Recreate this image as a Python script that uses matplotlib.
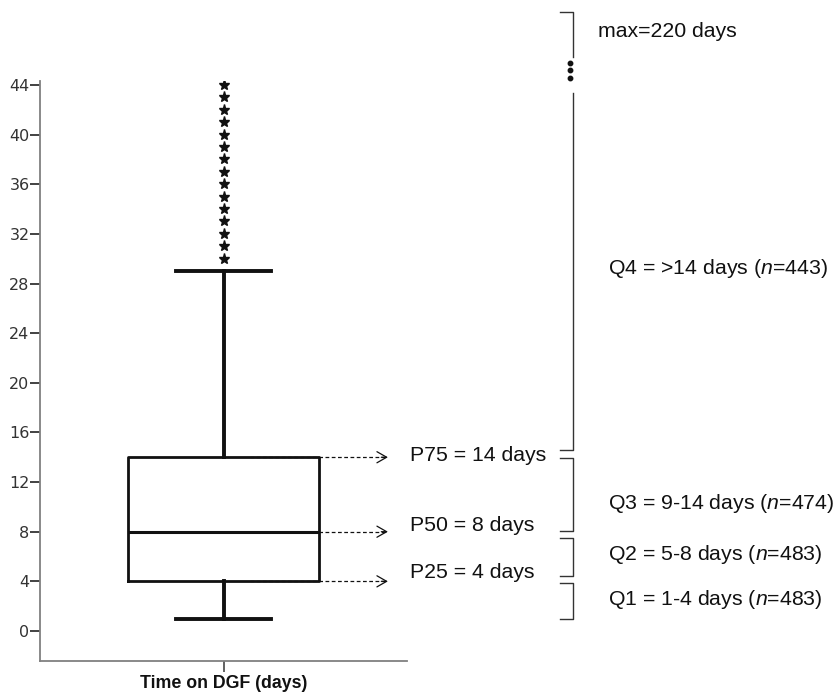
import matplotlib
matplotlib.use("Agg")
import matplotlib.pyplot as plt
import matplotlib.transforms as mtransforms

plt.rcParams["mathtext.fontset"] = "custom"
plt.rcParams["mathtext.rm"] = "Liberation Sans"
plt.rcParams["mathtext.it"] = "Liberation Sans:italic"

# ── Data ─────────────────────────────────────────────────────────────────────
CATEGORY = "Time on DGF (days)"
Q1_VAL, MEDIAN, Q3_VAL = 4, 8, 14
WHISK_LO, WHISK_HI = 1, 29
OUTLIERS = [30, 31, 32, 33, 34, 35, 36, 37, 38, 39, 40, 41, 42, 43, 44]
Y_TICKS = [0, 4, 8, 12, 16, 20, 24, 28, 32, 36, 40, 44]

PCT_LABELS = ["P75 = 14 days", "P50 = 8 days", "P25 = 4 days"]
PCT_VALUES = [14, 8, 4]
PCT_TEXT_Y = [14.18, 8.46, 4.75]

QUART_LABELS = [r"Q4 = >14 days ($\mathit{n}$=443)",
                r"Q3 = 9-14 days ($\mathit{n}$=474)",
                r"Q2 = 5-8 days ($\mathit{n}$=483)",
                r"Q1 = 1-4 days ($\mathit{n}$=483)"]
QUART_TEXT_Y = [29.2, 10.3, 6.2, 2.5]
# bracket spans (bottom, top) in days
QUART_SPANS = [(14.58, 43.35), (8.06, 13.94), (4.43, 7.49), (0.97, 3.87)]
MAX_LABEL = "max=220 days"
MAX_SPAN = (46.25, 49.9)
MAX_TEXT_Y = 48.3
DOTS_Y = [45.77, 45.2, 44.56]

C_LINE = "#111111"
C_AXIS = "#808080"

# ── Figure ───────────────────────────────────────────────────────────────────
fig = plt.figure(figsize=(8.35, 6.92), dpi=100)
ax = fig.add_axes([40 / 835, 31 / 692, 367 / 835, 580 / 692])

stats = [dict(med=MEDIAN, q1=Q1_VAL, q3=Q3_VAL, whislo=WHISK_LO,
              whishi=WHISK_HI, fliers=OUTLIERS, label=CATEGORY)]
ax.bxp(stats, positions=[1], widths=0.52, showfliers=True,
       boxprops=dict(color=C_LINE, lw=2.0),
       medianprops=dict(color=C_LINE, lw=2.2),
       whiskerprops=dict(color=C_LINE, lw=2.8),
       capprops=dict(color=C_LINE, lw=2.8),
       capwidths=0.26,
       flierprops=dict(marker="*", markersize=8, markerfacecolor=C_LINE,
                       markeredgecolor=C_LINE, linestyle="none"))

ax.set_xlim(0.5, 1.5)
ax.set_ylim(-2.42, 44.32)
ax.set_yticks(Y_TICKS)
ax.set_yticklabels([str(t) for t in Y_TICKS], fontsize=11.5,
                   family="DejaVu Sans", color="#333333")
ax.set_xticks([1])
ax.set_xticklabels([CATEGORY], fontsize=12.8, family="Liberation Sans",
                   fontweight="bold", color="#111111")
ax.tick_params(axis="y", direction="out", length=7, width=1.3,
               color="#333333", pad=0.5)
ax.tick_params(axis="x", direction="out", length=8, width=1.3,
               color="#555555", pad=2)
for side in ["top", "right"]:
    ax.spines[side].set_visible(False)
for side in ["left", "bottom"]:
    ax.spines[side].set_color(C_AXIS)
    ax.spines[side].set_linewidth(1.3)

# x in figure fraction, y in days
trans = mtransforms.blended_transform_factory(fig.transFigure, ax.transData)

# dashed arrows from box to percentile labels
for val, txt, ty in zip(PCT_VALUES, PCT_LABELS, PCT_TEXT_Y):
    ax.plot([1.072, 1.44], [val, val], ls=(0, (3, 2)), lw=0.9,
            color=C_LINE, clip_on=False)
    ax.annotate("", xy=(1.448, val), xytext=(1.43, val),
                arrowprops=dict(arrowstyle="->,head_length=0.7,head_width=0.4",
                                lw=0.9, color=C_LINE, shrinkA=0, shrinkB=0),
                annotation_clip=False)
    ax.text(410 / 835, ty, txt, fontsize=15.3, family="Liberation Sans",
            ha="left", va="center", color=C_LINE, transform=trans)

# quartile brackets on the right
xv, xh = 573 / 835, 560 / 835
br = dict(color="#333333", lw=1.0, transform=trans, clip_on=False)

lo, hi = MAX_SPAN
ax.plot([xh, xv, xv], [hi, hi, lo], **br)
ax.plot([570 / 835] * len(DOTS_Y), DOTS_Y, "o", ms=3.2, color=C_LINE,
        transform=trans, clip_on=False)

for i, (lo, hi) in enumerate(QUART_SPANS):
    if i == 0:
        ax.plot([xv, xv, xh], [hi, lo, lo], **br)
    else:
        ax.plot([xh, xv, xv, xh], [hi, hi, lo, lo], **br)

ax.text(598 / 835, MAX_TEXT_Y, MAX_LABEL, fontsize=15.3,
        family="Liberation Sans", ha="left", va="center", color=C_LINE,
        transform=trans)
for txt, ty in zip(QUART_LABELS, QUART_TEXT_Y):
    ax.text(608 / 835, ty, txt, fontsize=15.3, family="Liberation Sans",
            ha="left", va="center", color=C_LINE, transform=trans)

fig.savefig("out.png", dpi=100)
